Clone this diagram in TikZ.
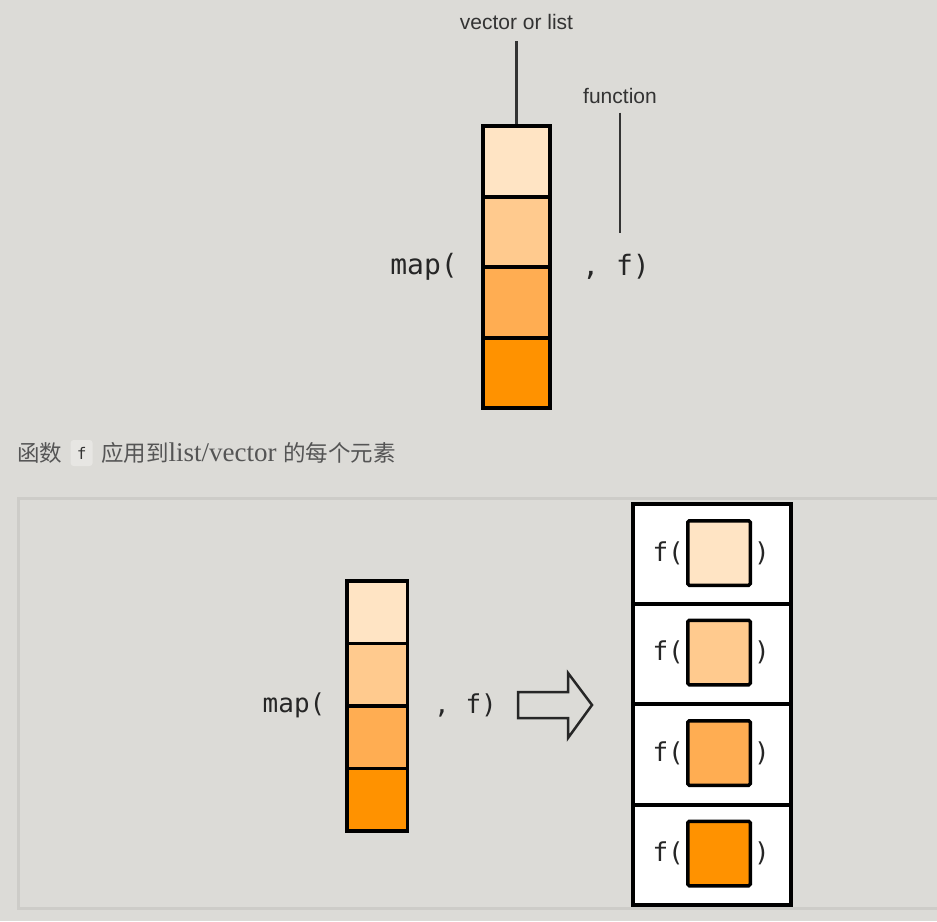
\documentclass[tikz,border=0pt]{standalone}
\usepackage{fontspec}
\setmainfont{Liberation Serif}
\setmonofont{DejaVu Sans Mono}
\newfontfamily\labelfont{Liberation Sans}
\newfontfamily\cjk{Noto Sans CJK SC}
\usetikzlibrary{positioning}
\definecolor{bgcol}{RGB}{220,219,215}
\definecolor{framecol}{RGB}{205,204,200}
\definecolor{codebg}{RGB}{231,230,227}
\definecolor{captext}{RGB}{85,85,85}
\definecolor{inka}{RGB}{255,228,196}
\definecolor{inkb}{RGB}{255,202,142}
\definecolor{inkc}{RGB}{255,173,82}
\definecolor{inkd}{RGB}{255,146,0}

\begin{document}
\begin{tikzpicture}[x=1pt, y=-1pt,
  cell/.style={draw, line width=4pt, minimum width=67pt, minimum height=70.5pt, inner sep=0pt},
  smallcell/.style={draw, line width=3.5pt, minimum width=60.5pt, minimum height=62.5pt, inner sep=0pt},
  rowbox/.style={draw, fill=white, line width=4pt, minimum width=158pt, minimum height=100.25pt, inner sep=0pt},
  swatch/.style={draw, line width=3.5pt, rounded corners=1.5pt, minimum width=62.5pt, minimum height=64.5pt, inner sep=0pt},
  lbl/.style={font=\labelfont\fontsize{21}{25}\selectfont, text=black!80},
  lead/.style={line width=2.2pt, black!80},
  code/.style={font=\ttfamily\fontsize{28}{32}\selectfont, text=black!85, inner sep=0pt},
  smallcode/.style={font=\ttfamily\fontsize{26}{30}\selectfont, text=black!85, inner sep=0pt},
  caption/.style={text=captext, inner sep=0pt, font=\cjk\fontsize{22.5}{26}\selectfont}]
  \useasboundingbox (0,0) rectangle (937,921);
  \clip (0,0) rectangle (937,921);
  \fill[bgcol] (0,0) rectangle (937,921);

  \node[cell, fill=inka] (a1) at (516.5,161.25) {};
  \node[cell, fill=inkb] (a2) at (516.5,231.75) {};
  \node[cell, fill=inkc] (a3) at (516.5,302.25) {};
  \node[cell, fill=inkd] (a4) at (516.5,372.75) {};
  \node[code] (map1) at (424,267) {map(};
  \node[code] (fun1) at (616,267) {, f)};
  \node[lbl] (vlist) at (516.5,22) {vector or list};
  \node[lbl] (fn) at (620,96) {function};
  \coordinate (fend) at (620,233);
  \draw[lead, shorten <=8pt] (vlist) -- (a1.north);
  \draw[lead, shorten <=5.5pt] (fn) -- (fend);

  \node[caption, anchor=west] (cap1) at (17,453) {函数};
  \node[fill=codebg, rounded corners=3pt, minimum width=22pt, minimum height=26pt, inner sep=0pt,
        font=\ttfamily\fontsize{16}{18}\selectfont, text=black!80, right=8pt of cap1] (capf) {f};
  \node[caption, right=8pt of capf] (cap2) {应用到{\rmfamily\fontsize{27}{30}\selectfont list/vector }的每个元素};

  \draw[framecol, line width=3pt] (18,498) rectangle (960,908);

  \node[smallcell, fill=inka] (b1) at (377,612.25) {};
  \node[smallcell, fill=inkb] (b2) at (377,674.75) {};
  \node[smallcell, fill=inkc] (b3) at (377,737.25) {};
  \node[smallcell, fill=inkd] (b4) at (377,799.75) {};
  \node[smallcode] (map2) at (294,705) {map(};
  \node[smallcode] (fun2) at (465.5,705) {, f)};
  \draw[line width=2.5pt, black!85, line join=miter] (518,692) -- (568,692) -- (568,673) -- (592,705)
    -- (568,738) -- (568,718) -- (518,718) -- cycle;

  \node[rowbox] (r1) at (712,554.1) {};
  \node[rowbox] (r2) at (712,654.4) {};
  \node[rowbox] (r3) at (712,754.6) {};
  \node[rowbox] (r4) at (712,854.9) {};
  \node[swatch, fill=inka] (s1) at (719,553) {};
  \node[swatch, fill=inkb] (s2) at (719,652.5) {};
  \node[swatch, fill=inkc] (s3) at (719,753) {};
  \node[swatch, fill=inkd] (s4) at (719,853.5) {};
  \node[smallcode, anchor=east] (fa1) at (684,553) {f(};
  \node[smallcode, anchor=east] (fa2) at (684,652.5) {f(};
  \node[smallcode, anchor=east] (fa3) at (684,753) {f(};
  \node[smallcode, anchor=east] (fa4) at (684,853.5) {f(};
  \node[smallcode, anchor=west] (fb1) at (754,553) {)};
  \node[smallcode, anchor=west] (fb2) at (754,652.5) {)};
  \node[smallcode, anchor=west] (fb3) at (754,753) {)};
  \node[smallcode, anchor=west] (fb4) at (754,853.5) {)};
\end{tikzpicture}
\end{document}
